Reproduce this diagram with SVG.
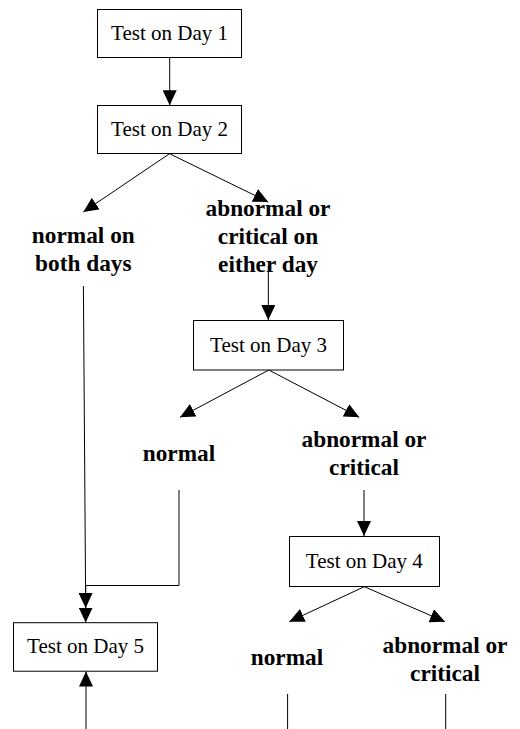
<svg xmlns="http://www.w3.org/2000/svg" width="520" height="729" viewBox="0 0 520 729">
<style>
.box{fill:#fff;stroke:#000;stroke-width:1}
.bt{font-family:'Liberation Serif','Times New Roman',serif;font-size:21px;text-anchor:middle;fill:#000}
.lb{font-family:'Liberation Serif','Times New Roman',serif;font-size:23.3px;font-weight:bold;text-anchor:middle;fill:#000}
.c{fill:none;stroke:#000;stroke-width:1}
.a{marker-end:url(#ah)}
</style>
<defs>
<marker id="ah" viewBox="0 0 15 14" refX="15" refY="7" markerWidth="15" markerHeight="14" markerUnits="userSpaceOnUse" orient="auto">
<path d="M0,0 L15,7 L0,14 z" fill="#000"/>
</marker>
</defs>
<rect width="520" height="729" fill="#fff"/>
<g id="connectors">
<line class="c a" x1="169.7" y1="57.5" x2="169.7" y2="105.3"/>
<line class="c a" x1="169.5" y1="153.7" x2="83.3" y2="212"/>
<line class="c a" x1="169.5" y1="153.7" x2="268.3" y2="202"/>
<line class="c a" x1="268.3" y1="266" x2="268.3" y2="320"/>
<line class="c a" x1="268.8" y1="370" x2="180" y2="417.3"/>
<line class="c a" x1="268.8" y1="370" x2="359.3" y2="417.3"/>
<line class="c a" x1="364" y1="490" x2="364" y2="536"/>
<line class="c a" x1="364.3" y1="586.7" x2="289.3" y2="621.7"/>
<line class="c a" x1="364.3" y1="586.7" x2="445" y2="621.7"/>
<line class="c a" x1="83.4" y1="286" x2="85.7" y2="608"/>
<path class="c a" d="M179,490 V585.5 H85.7 V622.5"/>
<line class="c a" x1="86" y1="729" x2="86" y2="671.5"/>
<line class="c" x1="287.6" y1="694" x2="287.6" y2="729"/>
<line class="c" x1="445.7" y1="694" x2="445.7" y2="729"/>
</g>
<g id="day1">
<rect class="box" x="97.5" y="9.5" width="144" height="48"/>
<text class="bt" x="169.5" y="40">Test on Day 1</text>
</g>
<g id="day2">
<rect class="box" x="97.5" y="105.5" width="144" height="48"/>
<text class="bt" x="169.5" y="136">Test on Day 2</text>
</g>
<g id="normal-both">
<text class="lb" x="83.3" y="243">normal on</text>
<text class="lb" x="83.3" y="271">both days</text>
</g>
<g id="abnormal-either">
<text class="lb" x="268" y="215.7">abnormal or</text>
<text class="lb" x="268" y="243.5">critical on</text>
<text class="lb" x="268" y="272">either day</text>
</g>
<g id="day3">
<rect class="box" x="193.5" y="320.5" width="150" height="49.5"/>
<text class="bt" x="268.5" y="351.7">Test on Day 3</text>
</g>
<g id="normal3">
<text class="lb" x="179" y="461">normal</text>
</g>
<g id="abnormal3">
<text class="lb" x="364" y="447">abnormal or</text>
<text class="lb" x="364" y="475">critical</text>
</g>
<g id="day4">
<rect class="box" x="289.5" y="536.5" width="150" height="50"/>
<text class="bt" x="364.3" y="568">Test on Day 4</text>
</g>
<g id="normal4">
<text class="lb" x="287" y="665">normal</text>
</g>
<g id="abnormal4">
<text class="lb" x="445" y="653">abnormal or</text>
<text class="lb" x="445" y="681">critical</text>
</g>
<g id="day5">
<rect class="box" x="13.5" y="622.7" width="144" height="48.5"/>
<text class="bt" x="85.5" y="653">Test on Day 5</text>
</g>
</svg>
